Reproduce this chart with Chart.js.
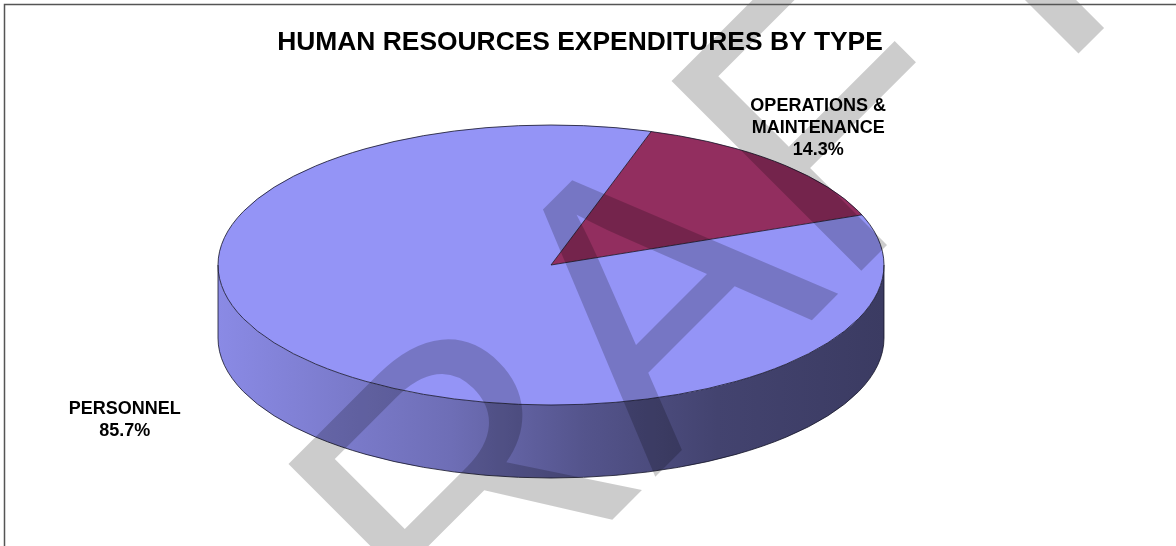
<!DOCTYPE html>
<html>
<head>
<meta charset="utf-8">
<script src="https://cdn.jsdelivr.net/npm/chart.js@4"></script>
<style>
  html, body { margin: 0; padding: 0; background: #fff; }
  #wrap { width: 1176px; height: 546px; }
</style>
</head>
<body>
<div id="wrap"><canvas id="hrChart" width="1176" height="546"></canvas></div>
<script>
// chart data
const categories = ['PERSONNEL', 'OPERATIONS & MAINTENANCE'];
const shares = [85.7, 14.3];
const sliceColors = ['#9494F6', '#922E5F'];
const chartTitle = 'HUMAN RESOURCES EXPENDITURES BY TYPE';
const watermark = 'DRAFT';

// look of the flattened 3d pie
const PIE_CX = 551, PIE_CY = 265;
const PIE_RX = 333, PIE_RY = 140;
const PIE_DEPTH = 73;
const labelNudge = [[-198, 53], [39, -35]];
const FONT = '"Liberation Sans", Arial, sans-serif';

Chart.defaults.font.family = FONT;

function hexToRgb(hex) {
  const n = parseInt(hex.slice(1), 16);
  return [(n >> 16) & 255, (n >> 8) & 255, n & 255];
}

function shade(hex, f) {
  const c = hexToRgb(hex).map(v => Math.round(v * f));
  return 'rgb(' + c.join(',') + ')';
}

// parts of a slice that face the viewer (angles 0..PI, screen space)
function frontParts(a0, a1) {
  const TAU = Math.PI * 2;
  const shift = Math.floor(a0 / TAU) * TAU;
  const s = a0 - shift, e = a1 - shift;
  const parts = [];
  [[0, Math.PI], [TAU, TAU + Math.PI]].forEach(([f0, f1]) => {
    const p0 = Math.max(s, f0), p1 = Math.min(e, f1);
    if (p1 > p0) parts.push([p0, p1]);
  });
  return parts;
}

function wallGradient(ctx, color) {
  const g = ctx.createLinearGradient(PIE_CX - PIE_RX, 0, PIE_CX + PIE_RX, 0);
  g.addColorStop(0, shade(color, 0.93));
  g.addColorStop(0.35, shade(color, 0.74));
  g.addColorStop(0.55, shade(color, 0.57));
  g.addColorStop(0.75, shade(color, 0.45));
  g.addColorStop(1, shade(color, 0.40));
  return g;
}

function wrapText(ctx, text, maxWidth) {
  const words = text.split(' ');
  const lines = [];
  let line = '';
  words.forEach(w => {
    const test = line ? line + ' ' + w : w;
    if (line && ctx.measureText(test).width > maxWidth) {
      lines.push(line);
      line = w;
    } else {
      line = test;
    }
  });
  if (line) lines.push(line);
  return lines;
}

const pie3d = {
  id: 'pie3d',
  beforeDraw(chart) {
    const ctx = chart.ctx;
    ctx.save();
    ctx.fillStyle = '#fff';
    ctx.fillRect(0, 0, chart.width, chart.height);
    ctx.restore();
  },
  beforeDatasetsDraw(chart) {
    const ctx = chart.ctx;
    const arcs = chart.getDatasetMeta(0).data;
    // side wall first
    arcs.forEach((arc, i) => {
      frontParts(arc.startAngle, arc.endAngle).forEach(([s, e]) => {
        ctx.beginPath();
        ctx.ellipse(PIE_CX, PIE_CY, PIE_RX, PIE_RY, 0, s, e);
        ctx.ellipse(PIE_CX, PIE_CY + PIE_DEPTH, PIE_RX, PIE_RY, 0, e, s, true);
        ctx.closePath();
        ctx.fillStyle = wallGradient(ctx, sliceColors[i]);
        ctx.fill();
      });
    });
    // squash the library's round pie into the top face
    const r = arcs[0].outerRadius;
    ctx.save();
    ctx.translate(PIE_CX, PIE_CY);
    ctx.scale(PIE_RX / r, PIE_RY / r);
    ctx.translate(-arcs[0].x, -arcs[0].y);
  },
  afterDatasetsDraw(chart) {
    const ctx = chart.ctx;
    ctx.restore();
    const arcs = chart.getDatasetMeta(0).data;

    // outlines
    ctx.save();
    ctx.strokeStyle = 'rgba(20,20,40,0.8)';
    ctx.lineWidth = 1;
    ctx.beginPath();
    ctx.ellipse(PIE_CX, PIE_CY, PIE_RX, PIE_RY, 0, 0, Math.PI * 2);
    ctx.stroke();
    ctx.beginPath();
    ctx.ellipse(PIE_CX, PIE_CY + PIE_DEPTH, PIE_RX, PIE_RY, 0, 0, Math.PI);
    ctx.moveTo(PIE_CX - PIE_RX, PIE_CY);
    ctx.lineTo(PIE_CX - PIE_RX, PIE_CY + PIE_DEPTH);
    ctx.moveTo(PIE_CX + PIE_RX, PIE_CY);
    ctx.lineTo(PIE_CX + PIE_RX, PIE_CY + PIE_DEPTH);
    ctx.stroke();
    ctx.beginPath();
    arcs.forEach(arc => {
      ctx.moveTo(PIE_CX, PIE_CY);
      ctx.lineTo(PIE_CX + PIE_RX * Math.cos(arc.startAngle), PIE_CY + PIE_RY * Math.sin(arc.startAngle));
    });
    ctx.stroke();
    ctx.restore();

    // data labels
    const total = shares.reduce((a, b) => a + b, 0);
    ctx.save();
    ctx.font = 'bold 18px ' + FONT;
    ctx.fillStyle = '#000';
    ctx.textAlign = 'center';
    ctx.textBaseline = 'middle';
    arcs.forEach((arc, i) => {
      const mid = (arc.startAngle + arc.endAngle) / 2;
      const x = PIE_CX + PIE_RX * Math.cos(mid) + labelNudge[i][0];
      const y = PIE_CY + PIE_RY * Math.sin(mid) + labelNudge[i][1];
      const lines = wrapText(ctx, categories[i], 150);
      lines.push((shares[i] / total * 100).toFixed(1) + '%');
      const lh = 22;
      const top = y - (lines.length - 1) * lh / 2;
      lines.forEach((l, k) => ctx.fillText(l, x, top + k * lh));
    });
    ctx.restore();
  },
  afterDraw(chart) {
    const ctx = chart.ctx;
    // watermark
    ctx.save();
    ctx.translate(716, 416);
    ctx.rotate(-45 * Math.PI / 180);
    ctx.font = '390px ' + FONT;
    ctx.fillStyle = 'rgba(0,0,0,0.2)';
    ctx.textAlign = 'center';
    ctx.textBaseline = 'alphabetic';
    ctx.fillText(watermark, 0, 0);
    ctx.restore();
    // frame
    ctx.save();
    ctx.strokeStyle = '#555';
    ctx.lineWidth = 1.5;
    ctx.strokeRect(4.5, 4.5, chart.width + 10, chart.height + 10);
    ctx.restore();
  }
};

new Chart(document.getElementById('hrChart'), {
  type: 'pie',
  data: {
    labels: categories,
    datasets: [{
      data: shares,
      backgroundColor: sliceColors,
      borderWidth: 0
    }]
  },
  options: {
    responsive: false,
    animation: false,
    rotation: 69,
    layout: { padding: { right: 16 } },
    plugins: {
      legend: { display: false },
      tooltip: { enabled: false },
      title: {
        display: true,
        text: chartTitle,
        color: '#000',
        font: { size: 26.4, weight: 'bold', lineHeight: 1.2 },
        padding: { top: 27, bottom: 10 }
      }
    }
  },
  plugins: [pie3d]
});
</script>
</body>
</html>
